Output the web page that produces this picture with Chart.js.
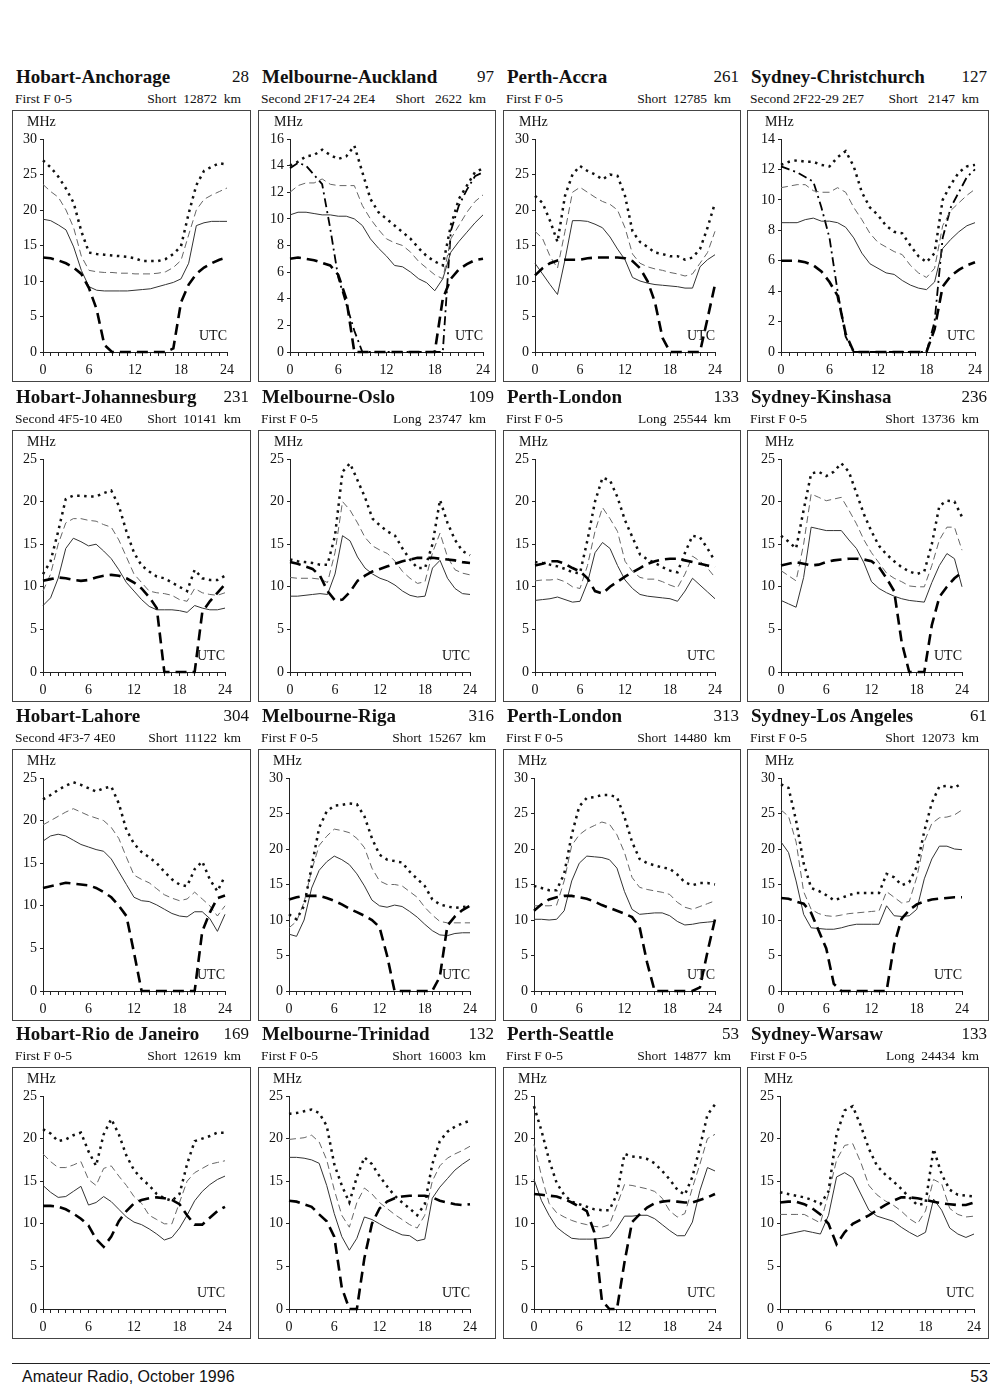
<!DOCTYPE html>
<html lang="en">
<head>
<meta charset="UTF-8">
<title>HF propagation predictions</title>
<script src="https://cdn.jsdelivr.net/npm/chart.js"></script>
<style>
  body { margin: 0; background: #fff; color: #111; font-family: 'Liberation Serif', 'Times New Roman', serif; }
  .page { position: relative; width: 1000px; height: 1392px; }
  .frame { position: absolute; border: 1px solid #444; box-sizing: border-box; pointer-events: none; }
  .plot { position: absolute; }
  .title { position: absolute; font-weight: bold; font-size: 19px; line-height: 22px; white-space: nowrap; }
  .num { position: absolute; font-size: 17px; line-height: 22px; text-align: right; }
  .sub { position: absolute; font-size: 13.5px; line-height: 15px; white-space: pre; }
  .lbl { position: absolute; font-size: 14px; line-height: 15px; white-space: nowrap; }
  .rule { position: absolute; left: 12px; top: 1363px; width: 978px; height: 1px; background: #222; }
  .foot { position: absolute; top: 1368px; font-family: 'Liberation Sans', Arial, sans-serif; font-size: 16px; line-height: 18px; }
</style>
</head>
<body>
<div class="page" id="page">
  <div class="rule"></div>
  <div class="foot" style="left:22px">Amateur Radio, October 1996</div>
  <div class="foot" style="right:12px">53</div>
</div>

<script>
// hours along the x axis
const hours = [0,1,2,3,4,5,6,7,8,9,10,11,12,13,14,15,16,17,18,19,20,21,22,23,24];

// Row 1
const anchorageDot   = [27,26,24.7,23,21,17,14,13.8,13.7,13.6,13.5,13.4,13.2,12.8,12.8,12.8,13.1,13.8,14.9,19.5,23.5,25.5,26.1,26.6,26.4];
const anchorageDash  = [23.6,22.6,21.8,20,17.5,13.5,11.5,11.3,11.2,11.2,11.1,11.1,11,11,11,11.1,11.3,11.9,12.9,16.5,20,21.5,22.1,22.6,23.1];
const anchorageSolid = [18.7,18.5,17.9,17.2,14.8,11.5,9.2,8.7,8.6,8.6,8.6,8.6,8.7,8.8,8.9,9.2,9.5,9.8,10.3,12.5,17.8,18.2,18.4,18.4,18.4];
const anchorageLuf   = [13.3,13.2,12.9,12.5,11.9,11,9,6,1,0,0,0,0,0,0,0,0,0.5,7,9.5,11,11.9,12.5,13,13.3];

const aucklandDot   = [14,14.3,14.7,14.8,15.2,14.8,14.5,14.7,15.5,13.5,11.5,10.5,10,9.5,9,8.5,7.8,7.2,6.8,6.5,9.5,11.5,12.5,13.5,13.8];
const aucklandDash  = [12,12.5,12.7,12.7,13,12.6,12.5,12.5,12.5,11,10,9.2,8.5,8.2,8,7.5,6.8,6.3,5.8,5.5,8.5,9.5,10.5,11.3,11.8];
const aucklandSolid = [10.3,10.5,10.5,10.4,10.3,10.3,10.2,10.2,10,9.5,8.5,7.8,7.2,6.5,6.4,6,5.5,5.2,4.6,5.5,7.5,8.3,9,9.7,10.3];
const aucklandLuf   = [7,7.1,7,6.9,6.7,6.5,5.8,4,0,0,0,0,0,0,0,0,0,0,0,4,5.5,6.2,6.6,6.9,7];
const aucklandE     = [13.8,14.2,14,13.3,12.6,9.3,5.6,3.6,1.6,0,0,0,0,0,0,0,0,0,0,0,9.1,11,12.2,13.2,13.5];

const accraDot   = [22,21,18.5,15.5,22,25,26.2,25.5,25,24.3,25,24.8,22,17,15.5,14.8,14,13.8,13.5,13.5,13,13.3,14.5,17.5,21];
const accraDash  = [17,16,13.5,11.8,17,22.5,23.2,22.5,21.8,21.2,20.8,20,17.5,13.8,12.5,12,11.7,11.5,11.2,11,10.7,11,12.5,14,17];
const accraSolid = [12.5,11,9.5,8.1,13,18.5,18.5,18.4,18,17.5,16.2,14.5,13,10.5,10,9.7,9.5,9.4,9.3,9.2,9,9,12,13,13.7];
const accraLuf   = [10.8,11.8,12.5,12.9,13,13,13,13.2,13.3,13.3,13.3,13.3,13.2,12.8,11.8,10,7,2,0,0,0,0,0,4.7,9.5];

const christchurchDot   = [12.3,12.5,12.6,12.5,12.5,12.3,12.2,12.8,13.2,12.2,10.5,9.5,9,8.3,7.9,7.8,7,6.3,5.9,6.5,10,11,11.8,12.2,12.3];
const christchurchDash  = [10.8,10.9,11,11,10.6,10.5,10.5,10.8,10.5,9.5,8.7,7.8,7.2,6.9,6.6,6.4,5.7,5.2,4.9,5.5,8.3,9.3,9.8,10.3,10.7];
const christchurchSolid = [8.5,8.5,8.5,8.7,8.8,8.6,8.6,8.5,8.2,7.5,6.5,5.8,5.5,5.2,5.1,4.7,4.4,4.2,4.1,4.6,6.8,7.4,7.9,8.3,8.5];
const christchurchLuf   = [6,6,6,5.9,5.7,5.3,4.6,3.7,1.2,0,0,0,0,0,0,0,0,0,0,1.5,4.3,5,5.4,5.7,5.9];
const christchurchE     = [12.2,12,11.8,11.5,11.2,9.5,7.5,4,1,0,0,0,0,0,0,0,0,0,0,2,7.5,9.5,10.5,11.5,12];

// Row 2
const johannesburgDot   = [11.5,13,16.5,20.3,20.7,20.7,20.6,20.6,21,21.3,19.5,16.5,14,12.5,11.8,11.2,11,10.5,10,9.5,12,11,10.8,10.8,11.3];
const johannesburgDash  = [9.5,11.5,15,17.5,18,18,17.8,17.7,17.3,17,15.5,13.5,11.5,10.5,9.5,9.3,9.2,9,8.5,8.3,9.8,9.3,9.1,9,9.3];
const johannesburgSolid = [7.8,8.7,11,14.5,15.7,15.3,14.8,15,14.2,13.3,12,10.5,9.5,8.5,7.7,7.3,7.3,7.3,7.2,7,7.8,7.5,7.3,7.3,7.5];
const johannesburgLuf   = [10.7,10.9,11.1,11,10.8,10.7,10.8,11.1,11.3,11.4,11.3,11,10.5,9.8,8.8,7.5,0,0,0,0,0,7,8.3,9.3,10.3];

const osloDot   = [13.2,13,12.9,12.8,12.6,12.6,16,23.5,24.5,22.5,20.5,18,17.2,16.5,16,14.5,13.2,12.2,12.2,15,20.2,17.5,15.5,14.2,13.7];
const osloDash  = [11.1,11,11,11,10.9,10.5,14,20,19,17.5,15.8,14.8,14.3,13.9,13,11.8,11,10.4,10.6,14,16.3,13.5,12,11.6,11.4];
const osloSolid = [8.9,8.9,9,9.1,9.2,9.1,11.5,16,15.4,13.5,12.2,11.5,11,10.7,10.2,9.5,9,8.8,8.9,12.2,13.1,11,9.8,9.2,9.1];
const osloLuf   = [12.9,12.7,12.4,12.1,11.3,9.5,8.4,8.5,9.4,10.7,11.3,11.8,12.1,12.4,12.7,13,13.2,13.4,13.4,13.4,13.3,13.2,13.1,12.9,12.8];

const londonLongDot   = [12.9,12.8,12.6,12.4,12.1,11.7,11.6,15.5,20,22.8,22.5,20.5,17.8,15.8,13.8,13.2,12.8,12.3,11.9,11.7,14,16,15.8,14.5,13];
const londonLongDash  = [10.7,10.8,10.8,10.9,10.6,10,9.8,12.5,16.5,19.3,18,16.5,13,11.8,11.1,10.9,10.9,10.6,10.2,9.9,11.5,13.6,13,12.2,11.1];
const londonLongSolid = [8.4,8.5,8.6,8.8,8.5,8.2,8.3,10.5,14,15.2,14.5,12.5,10.8,9.8,9.1,8.9,8.8,8.7,8.6,8.3,9.5,11,10.2,9.4,8.6];
const londonLongLuf   = [12.5,12.7,13,13,12.7,12.2,11.8,11,9.5,9.2,10,10.6,11.2,11.7,12.2,12.7,13,13.2,13.3,13.3,13.1,12.9,12.7,12.5,12.3];

const kinshasaDot   = [16,15.3,14.5,19,23.3,23.5,23,23.5,24.5,23.5,21,18.5,16.5,14.8,13.8,13,12.3,11.8,11.5,11.8,15,19.5,20.1,20,18.2];
const kinshasaDash  = [11.9,11.3,10.7,15,20.9,20.5,20.1,20.3,20.5,19,17.4,15.5,14,12.8,11.6,11,10.6,10.1,10,10,12.5,15.5,17,17,14.3];
const kinshasaSolid = [8.4,8,7.6,11.1,17,16.8,16.6,16.6,16.6,15.5,14.5,12.8,10.6,9.8,9.3,8.9,8.6,8.4,8.3,8.2,10.5,12.5,13.9,13.3,10];
const kinshasaLuf   = [12.5,12.7,12.9,12.7,12.5,12.6,12.9,13.1,13.2,13.3,13.3,13.2,13,12.3,11,9.5,3.5,0,0,0,5.5,8.8,10,11,11.7];

// Row 3
const lahoreDot   = [22.5,23,23.6,24.1,24.5,24.2,23.8,23.4,23.8,24,22,18.9,17.3,16.3,15.7,15,14,13.1,12.5,12.3,14.3,15.2,13.1,11.7,13.5];
const lahoreDash  = [19.5,20,20.5,21,21.4,21,20.6,20.3,20,19.2,17.9,15.7,13.6,13.1,12.7,12,11.3,10.9,10.6,10.8,11.6,10.8,10,8.8,10];
const lahoreSolid = [17.6,18.2,18.4,18.2,17.7,17.2,16.9,16.6,16.4,15.5,14,12.5,11,10.6,10.5,10.1,9.6,9.1,8.8,8.7,9.3,9.3,8.5,7,9];
const lahoreLuf   = [12.1,12.3,12.5,12.7,12.6,12.5,12.4,12.1,11.6,11,10,8.8,4.5,0,0,0,0,0,0,0,0,7,9.2,10.9,11.2];

const rigaDot   = [10.8,10.1,12,17.5,23,25.3,26.1,26.2,26.4,26.3,24.6,21.5,19.2,18.5,18.3,18.1,16.8,15.8,14.8,12.9,12.2,11.9,11.7,11.8,12];
const rigaDash  = [8.9,9.8,12.5,17,20.5,21.8,22.8,22.6,22.3,21.5,20.2,17.3,15.5,15,15,14.8,14,13.2,11.8,10.7,9.8,9.6,9.6,9.6,9.6];
const rigaSolid = [8,7.7,10,14.5,17,18.2,19,18.5,17.8,16.5,14.8,12.8,12,11.8,12.1,11.9,11.2,10.4,9.4,8.5,7.9,7.8,8.1,8.2,8.2];
const rigaLuf   = [12.9,13.2,13.4,13.4,13.4,13.1,12.7,12.2,11.6,11.1,10.6,10,9,5,0,0,0,0,0,0,2,9.2,10.5,11.4,12];

const londonShortDot   = [14.8,14.5,14.2,14.2,16.5,22,26,27.2,27.3,27.6,27.6,27.3,24.5,21,18.6,18,17.7,17.4,17.2,16.4,15.3,14.9,15.2,15.2,15];
const londonShortDash  = [12,12,12,12.1,15.5,20.5,22,22.8,23.3,23.8,23.5,22,19.5,16,14.6,14.3,14.1,13.9,13.6,12.5,11.8,11.5,11.9,12.3,12.7];
const londonShortSolid = [10.1,10.1,10,10.1,11.3,15.5,18,19,18.9,18.8,18.5,17.3,14,11.5,10.8,10.9,11,11,10.6,9.8,9.3,9.4,9.6,9.7,9.8];
const londonShortLuf   = [11.3,12.2,12.9,13.2,13.4,13.4,13.2,13,12.6,12.1,11.7,11.3,10.9,10.4,9,4,0,0,0,0,0,0,0.5,5.5,10.1];

const losAngelesDot   = [29.1,28.6,24,18,14.5,14.1,13.5,12.8,13.1,13.5,13.8,13.8,13.8,13.8,16.5,16,14.9,15.3,17.5,22.5,26.5,28.8,28.9,28.6,29.3];
const losAngelesDash  = [25.5,24.6,21,14,11.5,10.9,10.6,10.5,10.7,10.9,11,11.1,11.2,11.3,14,13.2,12.4,12.6,16,21,23.6,24.4,24.5,24.8,25.5];
const losAngelesSolid = [21,19.5,15.5,10.8,8.9,8.8,8.7,8.7,8.9,9.2,9.4,9.4,9.4,9.4,12,10.6,10.5,10.6,11.5,15.8,18.6,20.4,20.4,20,19.9];
const losAngelesLuf   = [13.1,13,12.6,12.3,11,8.5,6,1,0,0,0,0,0,0,0,6.5,10.2,11.4,12.2,12.6,12.9,13,13.1,13.2,13.2];

// Row 4
const rioDot   = [21.1,20.6,19.7,19.9,20.4,20.7,18.5,16.8,20.5,22.3,20.5,18,16.3,15.3,14.5,13.5,13,12.7,13.5,17,19.7,20,20.3,20.7,20.7];
const rioDash  = [18.2,17.3,16.6,16.6,16.9,17.3,15.2,14.5,16.5,16.8,15.6,14.5,13.2,12.4,11,10.5,10,10,12.5,15,16,16.5,17,17.2,17.4];
const rioSolid = [14.5,13.7,13.1,13.2,13.8,14.4,12.2,12.5,13.2,12.6,11.7,10.8,10.2,9.9,9.4,8.8,8.1,8.4,9.5,11,12.7,13.8,14.6,15.2,15.6];
const rioLuf   = [12.1,12.1,12,11.7,11.2,10.6,9.8,8.2,7.3,8.5,10.3,11.5,12.4,12.8,13,13.1,13,12.8,12.3,11,9.9,9.9,10.7,11.5,12];

const trinidadDot   = [22.9,23,23.2,23.4,23,21.5,17,14.5,12.5,15.5,17.8,17,15.6,14.4,13.3,12.5,11.8,11,12.3,17,19.7,20.8,21.4,21.8,22.1];
const trinidadDash  = [19.9,20,20.1,20.4,19.6,17.5,14,11,9.6,12.5,14.2,13.5,12.5,11.8,11.1,10.5,9.9,9.5,11,15,16.8,17.7,18.2,18.6,19.1];
const trinidadSolid = [17.8,17.8,17.7,17.5,17.1,14.5,11.2,8.5,6.9,8.3,10.8,10.5,10,9.5,9.1,8.7,8.6,8,8.2,13,14.3,15.3,16.3,17,17.6];
const trinidadLuf   = [12.7,12.6,12.3,12,11.1,10.3,8.5,2.5,0,0,6,10,11.8,12.6,13,13.2,13.3,13.3,13.3,13.1,12.7,12.5,12.3,12.2,12.3];

const seattleDot   = [23.8,20.9,17.5,14.8,13.4,12.6,12.3,12,11.7,11.6,11.6,13.5,18.2,17.9,17.8,17.6,17.1,16.2,15.2,14,13.4,15.5,19,22.8,24];
const seattleDash  = [19.3,15.6,12.4,11.3,10.8,10.4,10.1,9.9,9.7,9.6,9.9,12.2,14.6,14.5,14.3,14.1,13.8,13,11.5,10.8,11.2,14.2,17,20,20.5];
const seattleSolid = [15.2,12.7,11,9.6,8.9,8.3,8.2,8.2,8.2,8.3,8.4,9.5,10.9,10.9,11,11,10.6,9.9,9.2,8.6,8.6,10.2,13.9,16.6,16.2];
const seattleLuf   = [13.5,13.4,13.3,13.2,12.9,12.5,12,11.5,9,1,0,0,5.5,10.2,11.1,11.9,12.4,12.6,12.7,12.6,12.5,12.5,12.8,13.1,13.5];

const warsawDot   = [13.7,13.5,13.3,13.1,12.8,12.3,13.8,20.5,23.3,23.8,21.5,18.8,16.8,15.8,15,14.1,13.1,12.2,12.4,18.8,15.8,14,13.4,13.3,13.2];
const warsawDash  = [11.1,11.1,11.1,11.1,10.6,10.1,13.5,17.5,19.2,19.4,17.2,14.5,13.4,12.7,12.2,11.5,10.6,10,11.5,15.2,14.7,11.8,11.1,10.8,10.9];
const warsawSolid = [8.6,8.8,9,9.2,9,8.8,11,15.5,16,15.4,13.5,11.6,10.9,10.6,10.3,9.6,9,8.5,9,12.9,11.6,9.5,8.8,8.4,8.8];
const warsawLuf   = [12.5,12.6,12.6,12.3,11.8,11.1,10,7.6,9,10,10.5,11,11.6,12.2,12.7,13.1,13.1,13,12.8,12.6,12.4,12.3,12.2,12.2,12.5];

// Panel headings and axes
const routes = ['Hobart-Anchorage','Melbourne-Auckland','Perth-Accra','Sydney-Christchurch',
  'Hobart-Johannesburg','Melbourne-Oslo','Perth-London','Sydney-Kinshasa',
  'Hobart-Lahore','Melbourne-Riga','Perth-London','Sydney-Los Angeles',
  'Hobart-Rio de Janeiro','Melbourne-Trinidad','Perth-Seattle','Sydney-Warsaw'];
const refNums = ['28','97','261','127','231','109','133','236','304','316','313','61','169','132','53','133'];
const modes = ['First F 0-5','Second 2F17-24 2E4','First F 0-5','Second 2F22-29 2E7',
  'Second 4F5-10 4E0','First F 0-5','First F 0-5','First F 0-5',
  'Second 4F3-7 4E0','First F 0-5','First F 0-5','First F 0-5',
  'First F 0-5','First F 0-5','First F 0-5','First F 0-5'];
const paths = ['Short  12872  km','Short   2622  km','Short  12785  km','Short   2147  km',
  'Short  10141  km','Long  23747  km','Long  25544  km','Short  13736  km',
  'Short  11122  km','Short  15267  km','Short  14480  km','Short  12073  km',
  'Short  12619  km','Short  16003  km','Short  14877  km','Long  24434  km'];
const yMax  = [30,16,30,14, 25,25,25,25, 25,30,30,30, 25,25,25,25];
const yStep = [5,2,5,2, 5,5,5,5, 5,5,5,5, 5,5,5,5];

const dotSeries   = [anchorageDot,aucklandDot,accraDot,christchurchDot,johannesburgDot,osloDot,londonLongDot,kinshasaDot,
  lahoreDot,rigaDot,londonShortDot,losAngelesDot,rioDot,trinidadDot,seattleDot,warsawDot];
const dashSeries  = [anchorageDash,aucklandDash,accraDash,christchurchDash,johannesburgDash,osloDash,londonLongDash,kinshasaDash,
  lahoreDash,rigaDash,londonShortDash,losAngelesDash,rioDash,trinidadDash,seattleDash,warsawDash];
const solidSeries = [anchorageSolid,aucklandSolid,accraSolid,christchurchSolid,johannesburgSolid,osloSolid,londonLongSolid,kinshasaSolid,
  lahoreSolid,rigaSolid,londonShortSolid,losAngelesSolid,rioSolid,trinidadSolid,seattleSolid,warsawSolid];
const lufSeries   = [anchorageLuf,aucklandLuf,accraLuf,christchurchLuf,johannesburgLuf,osloLuf,londonLongLuf,kinshasaLuf,
  lahoreLuf,rigaLuf,londonShortLuf,losAngelesLuf,rioLuf,trinidadLuf,seattleLuf,warsawLuf];
const eSeries = { 1: aucklandE, 3: christchurchE };

// layout (page pixels)
const boxLeft = [12, 258, 503, 747];
const boxRight = [251, 496, 741, 989];
const boxTop = [110, 430, 749, 1067];
const boxH = 272;
const plotLeft  = [43,290,535,781, 43,290,535,781, 43,289,534,781, 43,289,534,780];
const plotRight = [227,483,715,975, 225,470,715,962, 225,470,715,962, 225,470,715,974];
const plotTop = 29, plotBottom = 242;

const page = document.getElementById('page');
const serif = "'Liberation Serif', 'Times New Roman', serif";

function addDiv(cls, text, css) {
  const d = document.createElement('div');
  d.className = cls;
  d.textContent = text;
  Object.assign(d.style, css);
  page.appendChild(d);
  return d;
}

for (let k = 0; k < 16; k++) {
  const col = k % 4, row = Math.floor(k / 4);
  const bl = boxLeft[col], bt = boxTop[row];
  const bw = boxRight[col] - bl;
  const pl = plotLeft[k] - bl, pr = plotRight[k] - bl;

  addDiv('title', routes[k], { left: (bl + 4) + 'px', top: (bt - 44) + 'px' });
  addDiv('num', refNums[k], { left: bl + 'px', width: (bw - 2) + 'px', top: (bt - 44) + 'px' });
  addDiv('sub', modes[k], { left: (bl + 3) + 'px', top: (bt - 19) + 'px' });
  addDiv('sub', paths[k], { left: bl + 'px', width: (bw - 10) + 'px', top: (bt - 19) + 'px', textAlign: 'right' });

  const cv = document.createElement('canvas');
  cv.className = 'plot';
  cv.width = bw; cv.height = boxH;
  Object.assign(cv.style, { left: bl + 'px', top: bt + 'px', width: bw + 'px', height: boxH + 'px' });
  page.appendChild(cv);
  addDiv('frame', '', { left: bl + 'px', top: bt + 'px', width: bw + 'px', height: boxH + 'px' });

  addDiv('lbl', 'MHz', { left: (bl + pl - 16) + 'px', top: (bt + 4) + 'px' });
  addDiv('lbl', 'UTC', { left: (bl + pr - 28) + 'px', top: (bt + plotBottom - 24) + 'px' });

  const datasets = [
    { data: lufSeries[k], borderColor: '#000', borderWidth: 2.6, borderDash: [11, 6] },
    { data: dotSeries[k], borderColor: '#111', borderWidth: 2.5, borderDash: [2.5, 4.5] },
    { data: dashSeries[k], borderColor: '#666', borderWidth: 1, borderDash: [7, 4] },
    { data: solidSeries[k], borderColor: '#333', borderWidth: 1 }
  ];
  if (eSeries[k]) {
    datasets.push({ data: eSeries[k], borderColor: '#000', borderWidth: 1.8, borderDash: [9, 4, 2, 4] });
  }
  datasets.forEach(function (d) { d.pointRadius = 0; d.tension = 0; d.fill = false; d.clip = false; });

  new Chart(cv, {
    type: 'line',
    data: { labels: hours, datasets: datasets },
    options: {
      responsive: false,
      animation: false,
      layout: { padding: { top: plotTop, right: bw - pr, left: 0, bottom: 0 } },
      plugins: { legend: { display: false }, tooltip: { enabled: false } },
      scales: {
        x: {
          grid: { drawOnChartArea: false, tickLength: 4, color: '#222' },
          border: { color: '#222', width: 1 },
          ticks: {
            autoSkip: false, maxRotation: 0, padding: 6, color: '#111',
            font: { family: serif, size: 14 },
            callback: function (v, i) { return i % 6 === 0 ? String(hours[i]) : ''; }
          },
          afterFit: function (s) { s.height = boxH - plotBottom; }
        },
        y: {
          min: 0, max: yMax[k],
          grid: { drawOnChartArea: false, tickLength: 3, color: '#222' },
          border: { color: '#222', width: 1 },
          ticks: { stepSize: yStep[k], padding: 3, color: '#111', font: { family: serif, size: 14 } },
          afterFit: function (s) { s.width = pl; }
        }
      }
    }
  });
}
</script>
</body>
</html>
